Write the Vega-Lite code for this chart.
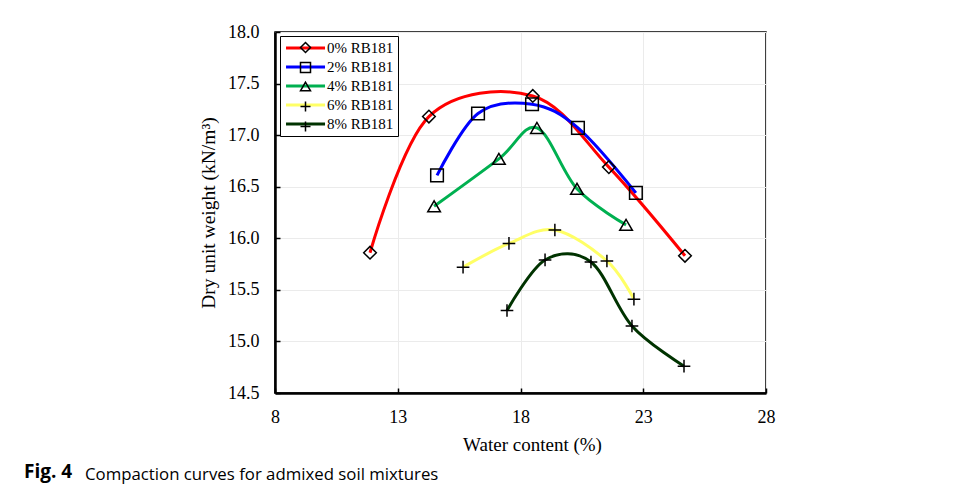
{
  "$schema": "https://vega.github.io/schema/vega-lite/v6.json",
  "autosize": {"type": "pad"},
  "padding": {"left": 24, "top": 22, "right": 0, "bottom": 0},
  "background": "white",
  "config": {
    "view": {"stroke": "black", "strokeWidth": 1.5},
    "axis": {
      "grid": true,
      "gridColor": "#ebebeb",
      "gridWidth": 1,
      "domainColor": "black",
      "domainWidth": 2.5,
      "tickColor": "black",
      "tickWidth": 1.5,
      "tickSize": -5,
      "labelFont": "Liberation Serif",
      "labelFontSize": 18,
      "labelColor": "black",
      "titleFont": "Liberation Serif",
      "titleFontSize": 19.5,
      "titleFontWeight": "normal",
      "titleColor": "black"
    }
  },
  "title": {
    "text": "Fig. 4",
    "orient": "bottom",
    "anchor": "start",
    "frame": "group",
    "dx": -251,
    "offset": -22,
    "font": "Open Sans",
    "fontSize": 19,
    "fontWeight": "bold",
    "color": "black"
  },
  "vconcat": [
    {
      "width": 491,
      "height": 361,
      "title": {
        "text": "Compaction curves for admixed soil mixtures",
        "orient": "bottom",
        "anchor": "start",
        "frame": "group",
        "dx": -190,
        "offset": 13,
        "font": "Open Sans",
        "fontSize": 16.8,
        "fontWeight": "normal",
        "color": "black"
      },
      "data": {
        "values": [
          {"series": "0% RB181", "w": 11.87, "d": 15.86},
          {"series": "0% RB181", "w": 14.27, "d": 17.18},
          {"series": "0% RB181", "w": 18.5, "d": 17.38},
          {"series": "0% RB181", "w": 21.6, "d": 16.69},
          {"series": "0% RB181", "w": 24.7, "d": 15.83},
          {"series": "2% RB181", "w": 14.6, "d": 16.61},
          {"series": "2% RB181", "w": 16.27, "d": 17.21},
          {"series": "2% RB181", "w": 18.47, "d": 17.3},
          {"series": "2% RB181", "w": 20.34, "d": 17.07},
          {"series": "2% RB181", "w": 22.7, "d": 16.44},
          {"series": "4% RB181", "w": 14.48, "d": 16.31},
          {"series": "4% RB181", "w": 17.12, "d": 16.77},
          {"series": "4% RB181", "w": 18.67, "d": 17.07},
          {"series": "4% RB181", "w": 20.3, "d": 16.48},
          {"series": "4% RB181", "w": 22.3, "d": 16.13},
          {"series": "6% RB181", "w": 15.66, "d": 15.72},
          {"series": "6% RB181", "w": 17.53, "d": 15.95},
          {"series": "6% RB181", "w": 19.4, "d": 16.08},
          {"series": "6% RB181", "w": 21.52, "d": 15.78},
          {"series": "6% RB181", "w": 22.62, "d": 15.41},
          {"series": "8% RB181", "w": 17.45, "d": 15.3},
          {"series": "8% RB181", "w": 19.0, "d": 15.79},
          {"series": "8% RB181", "w": 20.87, "d": 15.77},
          {"series": "8% RB181", "w": 22.54, "d": 15.15},
          {"series": "8% RB181", "w": 24.66, "d": 14.76}
        ]
      },
      "encoding": {
        "x": {
          "field": "w", "type": "quantitative",
          "scale": {"domain": [8, 28], "nice": false, "zero": false},
          "axis": {"values": [8, 13, 18, 23, 28], "title": "Water content (%)", "titleFontSize": 19, "titleX": 257, "labelPadding": 20, "titlePadding": 9, "labelFlush": false}
        },
        "y": {
          "field": "d", "type": "quantitative",
          "scale": {"domain": [14.5, 18], "nice": false, "zero": false},
          "axis": {"values": [14.5, 15, 15.5, 16, 16.5, 17, 17.5, 18], "format": ".1f", "title": "Dry unit weight (kN/m³)", "labelPadding": 21, "titlePadding": 9, "labelFlush": false}
        }
      },
      "layer": [
        {
          "mark": {"type": "line", "interpolate": "cardinal", "strokeWidth": 3},
          "encoding": {
            "color": {
              "field": "series", "type": "nominal",
              "scale": {"domain": ["0% RB181", "2% RB181", "4% RB181", "6% RB181", "8% RB181"], "range": ["#ff0000", "#0000ff", "#00b050", "#ffff66", "#003300"]},
              "legend": {
                "orient": "none", "legendX": 5, "legendY": 4, "direction": "vertical", "title": null,
                "symbolType": "M-0.92,0H5.08", "symbolSize": 169, "symbolStrokeWidth": 3,
                "labelFont": "Liberation Serif", "labelFontSize": 15, "labelColor": "black", "labelOffset": 27,
                "strokeColor": "black", "fillColor": "white", "padding": 4, "rowPadding": 3
              }
            }
          }
        },
        {
          "mark": {"type": "point", "filled": false, "stroke": "black", "strokeWidth": 1.5, "size": 160, "opacity": 1},
          "encoding": {
            "shape": {
              "field": "series", "type": "nominal",
              "scale": {"range": ["diamond", "square", "triangle-up", "M-1,0H1M0,-1V1", "M-1,0H1M0,-1V1"]},
              "legend": {
                "orient": "none", "legendX": 19, "legendY": 4, "direction": "vertical", "title": null,
                "symbolSize": 100, "symbolStrokeColor": "black", "symbolFillColor": "transparent", "symbolStrokeWidth": 1.5,
                "labelFontSize": 15, "labelOpacity": 0, "padding": 4, "rowPadding": 3
              }
            }
          }
        }
      ]
    }
  ]
}
